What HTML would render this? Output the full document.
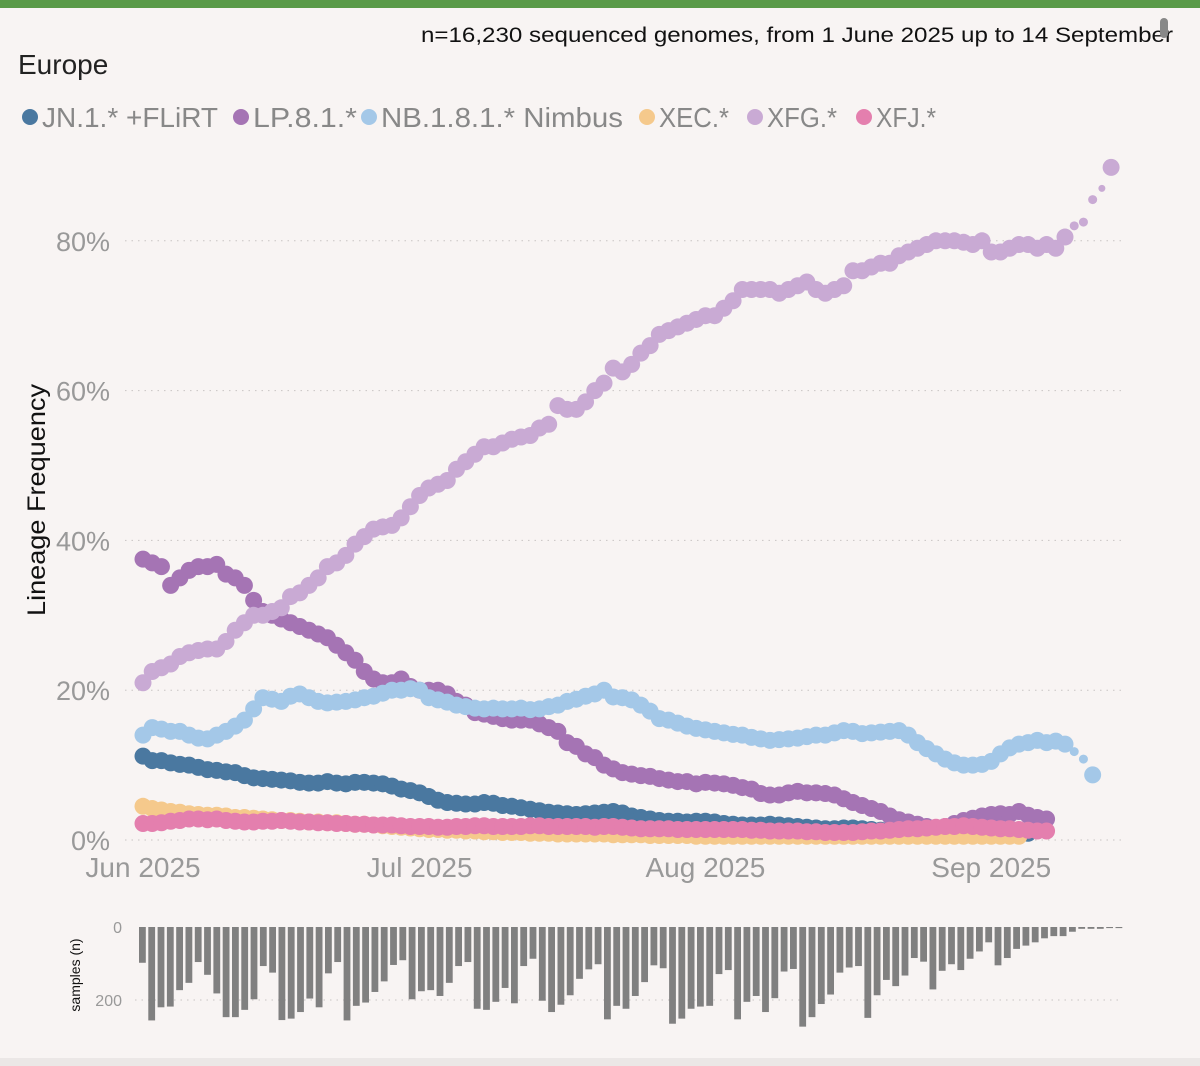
<!DOCTYPE html>
<html><head><meta charset="utf-8"><style>
body{margin:0;width:1200px;height:1066px;background:#f8f4f3;overflow:hidden;font-family:"Liberation Sans",sans-serif;}
svg{display:block}
</style></head><body>
<svg id="c" width="1200" height="1066">
<rect x="0" y="0" width="1200" height="8" fill="#5a9a48"/>
<rect x="0" y="1058" width="1200" height="8" fill="#ebe7e6"/>
<text x="1173" y="42" text-anchor="end" font-size="21" fill="#111" textLength="752" lengthAdjust="spacingAndGlyphs">n=16,230 sequenced genomes, from 1 June 2025 up to 14 September</text>
<rect x="1160" y="18" width="8" height="20" rx="4" fill="#888"/>
<text x="18" y="74" font-size="28" fill="#222">Europe</text>
<g id="legend"></g>
<g id="grid"></g><g id="marks"></g><g id="bars"></g>
<text transform="translate(45,500) rotate(-90)" text-anchor="middle" font-size="25" fill="#111" textLength="232" lengthAdjust="spacingAndGlyphs">Lineage Frequency</text>
<text transform="translate(80,975) rotate(-90)" text-anchor="middle" font-size="14" fill="#111">samples (n)</text>
</svg>
<script>
const xfg = [21,22.5,23,23.5,24.5,25,25.3,25.5,25.5,26.5,28,29,30,30,30.5,31,32.5,33,34,35,36.5,37,38,39.5,40.5,41.5,41.8,42,43,44.5,46,47,47.5,48,49.5,50.5,51.5,52.5,52.5,53,53.5,53.8,54,55,55.5,58,57.5,57.5,58.5,60,61,63,62.5,63.5,65,66,67.5,68,68.5,69,69.5,70,70,71,72,73.5,73.5,73.5,73.5,73,73.5,74,74.5,73.5,73,73.5,74,76,76,76.5,77,77,78,78.5,79,79.5,80,80,80,79.8,79.5,80,78.5,78.5,79,79.5,79.5,79,79.5,79,80.5,82,82.5,85.5,87,89.8];
const lp = [37.5,37,36.5,34,35,36,36.5,36.5,36.8,35.5,35,34,32,30.5,30,29.5,29,28.5,28,27.5,27,26,25,24,22.5,21.5,21,21,21.5,20.5,20,20,20,19.5,18.5,18,17,16.8,16.5,16.2,16,16,16,15.5,15,14.5,13,12.5,11.5,11,10,9.5,9,8.8,8.6,8.5,8.2,8,7.8,7.8,7.5,7.7,7.6,7.5,7.3,7,6.8,6.2,6,6,6.3,6.5,6.3,6.3,6.2,6,5.5,5,4.6,4.2,3.8,3.2,2.7,2.4,2.1,1.8,1.6,1.8,2.2,2.6,2.9,3.2,3.4,3.5,3.4,3.8,3.3,3.0,2.8];
const nb = [14,15,14.8,14.5,14.5,14,13.6,13.5,14,14.5,15.2,16,17.5,19,18.8,18.5,19.2,19.5,19,18.5,18.3,18.4,18.5,18.7,19,19.2,19.6,20,20,20.2,20,19,18.7,18.4,18,17.8,17.6,17.5,17.6,17.5,17.5,17.6,17.4,17.5,17.8,18,18.5,18.8,19.2,19.5,20,19.1,19,18.7,18,17.2,16.2,16,15.6,15.2,14.9,14.7,14.5,14.3,14.1,14,13.7,13.5,13.3,13.4,13.5,13.6,13.8,14,14,14.3,14.6,14.5,14.2,14.3,14.4,14.5,14.6,14,13,12.2,11.5,10.8,10.3,10,10,10.1,10.5,11.5,12.3,12.8,13,13.3,13,13.2,12.8,11.8,10.8,8.7];
const jn = [11.2,10.6,10.6,10.3,10.1,10,9.7,9.4,9.3,9.1,9,8.6,8.3,8.2,8.1,8,7.9,7.7,7.6,7.6,7.8,7.6,7.5,7.7,7.7,7.6,7.5,7.2,6.8,6.6,6.3,5.8,5.3,5,4.9,4.8,4.8,5,4.9,4.6,4.5,4.3,4.1,3.9,3.7,3.6,3.5,3.4,3.5,3.6,3.7,3.8,3.6,3.2,3,2.8,2.6,2.5,2.5,2.4,2.5,2.5,2.4,2.2,2.1,2,2,2,2.1,2,1.9,1.8,1.7,1.6,1.5,1.5,1.6,1.6,1.5,1.4,1.3,1.2,1.2,1.2,1.1,1.1,1.2,1.3,1.4,1.5,1.4,1.3,1.2,1.1,1.0,1.0,0.9];
const xec = [4.5,4.2,4,3.8,3.7,3.5,3.4,3.3,3.3,3.2,3,3,2.9,2.8,2.7,2.6,2.6,2.5,2.4,2.4,2.3,2.3,2.2,2.1,2.1,2,1.9,1.8,1.7,1.6,1.5,1.4,1.4,1.3,1.3,1.2,1.2,1.1,1.1,1,1,1,0.9,0.9,0.9,0.8,0.8,0.8,0.8,0.8,0.8,0.7,0.7,0.7,0.7,0.6,0.6,0.6,0.6,0.6,0.5,0.5,0.5,0.5,0.5,0.5,0.5,0.5,0.5,0.5,0.5,0.5,0.5,0.5,0.5,0.5,0.5,0.5,0.5,0.5,0.5,0.5,0.5,0.5,0.5,0.5,0.5,0.5,0.5,0.5,0.5,0.5,0.5,0.5,0.5,0.5];
const xfj = [2.2,2.2,2.3,2.5,2.6,2.8,2.8,2.7,2.8,2.6,2.5,2.4,2.4,2.5,2.5,2.6,2.5,2.4,2.4,2.3,2.3,2.2,2.2,2.1,2.1,2,2,2,1.9,1.8,1.8,1.8,1.7,1.7,1.8,1.8,1.9,1.9,1.8,1.8,1.8,1.8,1.9,1.9,1.8,1.8,1.8,1.8,1.8,1.7,1.8,1.8,1.7,1.6,1.5,1.5,1.5,1.5,1.4,1.4,1.4,1.4,1.4,1.4,1.4,1.4,1.3,1.3,1.2,1.2,1.2,1.2,1.1,1.1,1.0,1.0,1.0,1.0,1.1,1.2,1.2,1.3,1.4,1.5,1.5,1.6,1.7,1.8,1.8,1.9,1.8,1.7,1.6,1.5,1.5,1.4,1.3,1.2,1.2];
const samples = [98,256,220,218,173,153,96,131,182,247,247,227,198,107,125,255,251,233,196,220,127,96,256,216,207,178,149,104,91,198,176,173,189,153,107,96,224,227,205,167,209,107,87,202,233,213,187,142,116,102,253,216,224,189,151,105,113,265,251,224,218,216,129,118,253,205,189,233,195,122,115,273,247,211,185,125,111,107,249,187,145,162,133,85,95,171,120,102,118,87,67,42,105,85,60,51,42,31,25,25,13,5,5,5,3,3];
const yTicks = [0,20,40,60,80];
const yTickLabels = ["0%","20%","40%","60%","80%"];
const monthDays = [0,30,61,92];
const monthLabels = ["Jun 2025","Jul 2025","Aug 2025","Sep 2025"];
const barTicks = [0,200];
const legendNames = ["JN.1.* +FLiRT","LP.8.1.*","NB.1.8.1.* Nimbus","XEC.*","XFG.*","XFJ.*"];
const legendColors = ["#4a78a0","#a574b4","#a4c8e8","#f5c98c","#c9aad4","#e47fae"];

const NS="http://www.w3.org/2000/svg";
function mk(t,a,p){const e=document.createElementNS(NS,t);for(const k in a)e.setAttribute(k,a[k]);p.appendChild(e);return e;}
const X=d=>143+d*9.22;
const Y=v=>840-v*7.49;
const BX=d=>139+d*9.3;
const BY=n=>927+n*0.365;

const grid=document.getElementById('grid');
yTicks.forEach((t,i)=>{
  const l=mk('line',{x1:125,x2:1125,y1:Y(t),y2:Y(t),stroke:'#c8c4c3','stroke-dasharray':'1.5 5'},grid);
  
  
  const tx=mk('text',{x:110,y:Y(t)+10,'text-anchor':'end','font-size':27,fill:'#999'},grid);
  tx.textContent=yTickLabels[i];
  
  
});
monthDays.forEach((d,i)=>{
  const tx=mk('text',{x:X(d),y:877,'text-anchor':'middle','font-size':28,fill:'#999'},grid);
  tx.textContent=monthLabels[i];
  
  
});
const lg=document.getElementById('legend');
const lmx=[30,241,369,647,755,864];
const ltw=[176,104,242,70,70,60];
legendNames.forEach((n,i)=>{
  const c=mk('circle',{cx:lmx[i],cy:117,r:8,fill:legendColors[i]},lg);
  
  
  const t=mk('text',{x:lmx[i]+12,y:127,'font-size':28,fill:'#888',textLength:ltw[i],lengthAdjust:'spacingAndGlyphs'},lg);
  t.textContent=n;
  
  
});
const marks=document.getElementById('marks');
const series=[[lp,1,'lp'],[xfg,4,'xfg'],[jn,0,'jn'],[nb,2,'nb'],[xec,3,'xec'],[xfj,5,'xfj']];
series.forEach(([arr,ci,nm])=>{
  const g=mk('g',{},marks);
  
  
  arr.forEach((v,d)=>{
    const last=d===arr.length-1;
    const r=(last||samples[d]>=13)?8.5:(samples[d]>=5?4.5:3.5);
    const c=mk('circle',{cx:X(d),cy:Y(v),r:r,fill:legendColors[ci]},g);
    
    
  });
});
const bars=document.getElementById('bars');
barTicks.forEach(t=>{
  if(t>0){const l=mk('line',{x1:135,x2:1120,y1:BY(t),y2:BY(t),stroke:'#c8c4c3','stroke-dasharray':'1.5 5'},bars);
  
  }
  const tx=mk('text',{x:122,y:BY(t)+6,'text-anchor':'end','font-size':16,fill:'#999'},bars);
  tx.textContent=t;
  
  
});
samples.forEach((n,d)=>{
  const r=mk('rect',{x:BX(d),y:BY(0),width:6.8,height:Math.max(1,BY(n)-BY(0)),fill:'#808080'},bars);
  
  
});
</script>
</body></html>
